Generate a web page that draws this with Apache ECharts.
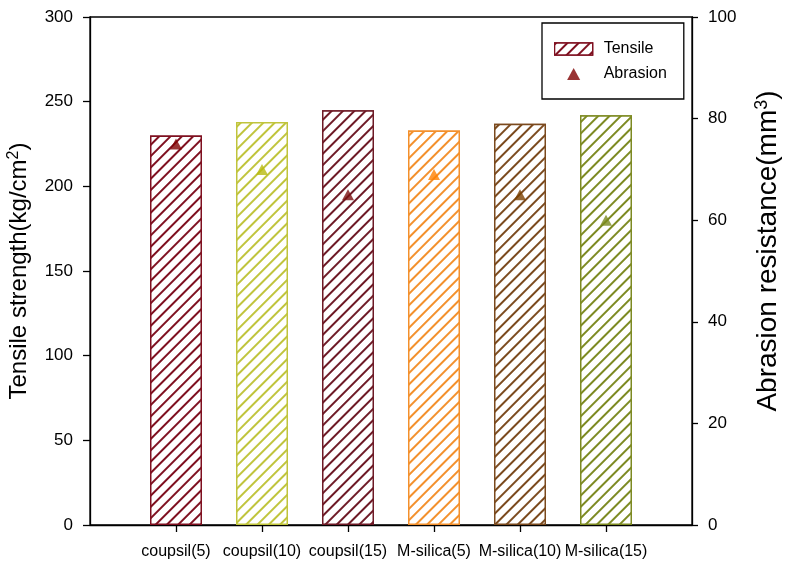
<!DOCTYPE html>
<html>
<head>
<meta charset="utf-8">
<script src="https://cdn.jsdelivr.net/npm/echarts@6/dist/echarts.min.js"></script>
<style>html,body{margin:0;padding:0;background:#fff;}#c{width:788px;height:578px;}</style>
</head>
<body>
<div id="c"></div>
<script>
var categories = ['coupsil(5)', 'coupsil(10)', 'coupsil(15)', 'M-silica(5)', 'M-silica(10)', 'M-silica(15)'];
var tensile = [230, 238, 245, 233, 237, 242];
var abrasion = [75, 70, 65, 69, 65, 60];
var barColors = ['#7f1020', '#c0c43c', '#6e1a26', '#f3902c', '#7b4a1e', '#7d8a22'];
var markerColors = ['#800000', '#b8ba10', '#7a1010', '#ff8000', '#7a4000', '#7a8a1e'];

var FONT = 'Arial, "Liberation Sans", sans-serif';
function hatch(color) {
  return {
    symbol: 'rect', symbolSize: 1, color: color, backgroundColor: '#ffffff',
    dashArrayX: [1, 0], dashArrayY: [1.3, 5.6], rotation: -Math.PI / 4
  };
}
var positions = categories.map(function (c, i) { return i + 1; });

var barData = tensile.map(function (v, i) {
  return {
    value: [positions[i], v],
    itemStyle: { color: '#ffffff', borderColor: barColors[i], borderWidth: 1.5, decal: hatch(barColors[i]) }
  };
});
var triData = abrasion.map(function (v, i) {
  return { value: [positions[i], v], itemStyle: { color: markerColors[i] } };
});

var chart = echarts.init(document.getElementById('c'), null, { renderer: 'canvas' });
chart.setOption({
  animation: false,
  backgroundColor: '#ffffff',
  textStyle: { fontFamily: FONT },
  grid: { left: 90, right: 96, top: 17, bottom: 53, outerBoundsMode: 'none', containLabel: false, show: true, borderColor: '#000', borderWidth: 1.3, backgroundColor: 'transparent' },
  legend: {
    orient: 'vertical', left: 542, top: 23,
    padding: [18, 17, 17, 12], itemGap: 9, itemWidth: 38, itemHeight: 12,
    borderColor: '#000', borderWidth: 1.3, backgroundColor: '#fff',
    symbolKeepAspect: true,
    textStyle: { fontSize: 16, color: '#000', fontFamily: FONT, padding: [0, 0, 0, 6] },
    data: [
      { name: 'Tensile', icon: 'rect', itemStyle: { color: '#fff', borderColor: '#7f1020', borderWidth: 1.3, decal: hatch('#7f1020') } },
      { name: 'Abrasion', icon: 'path://M6,0 L12,11 L0,11 Z', itemStyle: { color: '#800000' } }
    ]
  },
  xAxis: {
    type: 'value', min: 0, max: positions.length + 1, interval: 1,
    axisLine: { show: true, lineStyle: { color: '#000', width: 1.3 } },
    axisTick: { show: true, length: 7, inside: false, customValues: positions, lineStyle: { color: '#000', width: 1.3 } },
    axisLabel: {
      customValues: positions, margin: 19, fontSize: 16, color: '#000', fontFamily: FONT,
      formatter: function (v) { return categories[Math.round(v) - 1] || ''; }
    },
    splitLine: { show: false }
  },
  yAxis: [
    {
      type: 'value', min: 0, max: 300, interval: 50, position: 'left',
      name: '{n|Tensile strength(kg/cm}{s|2}{n|)}', nameLocation: 'middle', nameGap: 58, nameRotate: 90,
      nameTextStyle: { rich: { n: { fontSize: 24, color: '#000', fontFamily: FONT }, s: { fontSize: 16, color: '#000', fontFamily: FONT, verticalAlign: 'top', padding: [0, 0, 10, 0] } } },
      axisLine: { show: true, lineStyle: { color: '#000', width: 1.3 } },
      axisTick: { show: true, length: 7, lineStyle: { color: '#000', width: 1.3 } },
      axisLabel: { margin: 17, fontSize: 17, color: '#000', fontFamily: FONT },
      splitLine: { show: false }
    },
    {
      type: 'value', min: 0, max: 100, interval: 20, position: 'right',
      name: '{n|Abrasion resistance(mm}{s|3}{n|)}', nameLocation: 'middle', nameGap: 61, nameRotate: 90,
      nameTextStyle: { padding: [0, 0, 0, 40], rich: { n: { fontSize: 28, color: '#000', fontFamily: FONT }, s: { fontSize: 18, color: '#000', fontFamily: FONT, verticalAlign: 'top', padding: [0, 0, 12, 0] } } },
      axisLine: { show: true, lineStyle: { color: '#000', width: 1.3 } },
      axisTick: { show: true, length: 6, lineStyle: { color: '#000', width: 1.3 } },
      axisLabel: { margin: 16, fontSize: 17, color: '#000', fontFamily: FONT },
      splitLine: { show: false }
    }
  ],
  series: [
    {
      name: 'Tensile', type: 'bar', yAxisIndex: 0, barWidth: 52,
      itemStyle: { color: '#fff', borderColor: '#7f1020', borderWidth: 1.5, decal: hatch('#7f1020') },
      data: barData, z: 2
    },
    {
      name: 'Abrasion', type: 'scatter', yAxisIndex: 1, symbol: 'triangle', symbolSize: [12, 11],
      itemStyle: { color: '#800000' }, data: triData, z: 5
    }
  ]
});
</script>
</body>
</html>
